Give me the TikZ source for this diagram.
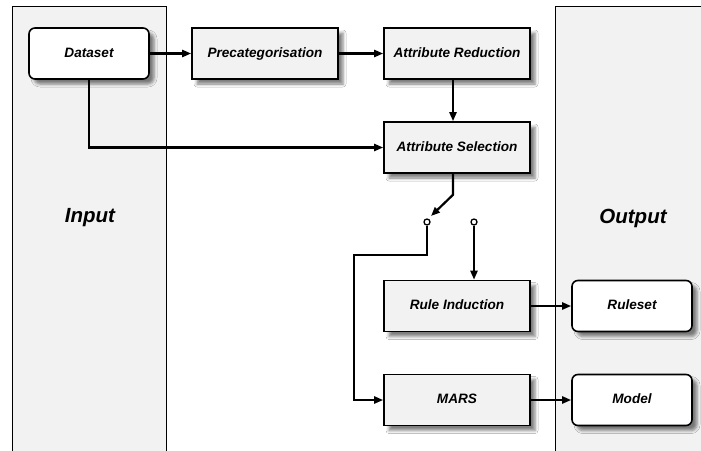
\documentclass[tikz,border=0pt]{standalone}
\usepackage{fontspec}
\setmainfont{Liberation Sans}
\usetikzlibrary{arrows.meta,shadows.blur,calc}
\definecolor{panelgray}{HTML}{F2F2F2}
\definecolor{boxgray}{HTML}{F2F2F2}
\tikzset{
  procbox/.style={draw=black, line width=1.6pt, fill=boxgray, minimum width=146pt, minimum height=51pt, inner sep=0pt,
    text height=10pt, text depth=3pt,
    font=\fontsize{13.6}{16}\selectfont\bfseries\itshape,
    blur shadow={shadow xshift=5pt, shadow yshift=-5pt, shadow blur radius=3pt, shadow opacity=50}},
  iobox/.style={procbox, fill=white, rounded corners=6pt, minimum width=120pt},
  panel/.style={draw=black, line width=1pt, fill=panelgray},
  panellabel/.style={font=\fontsize{20.5}{24}\selectfont\bfseries\itshape},
  conn/.style={line width=2.2pt, -{Triangle[length=9pt,width=7pt]}},
  contact/.style={circle, draw=black, line width=1.3pt, fill=white, minimum size=6pt, inner sep=0pt}
}
\begin{document}
\begin{tikzpicture}[x=1pt,y=-1pt]
\useasboundingbox (0,0) rectangle (701,450);
\fill[white] (0,0) rectangle (701,450);
% panels
\draw[panel] (12,460) -- (12,6) -- (166,6) -- (166,460);
\draw[panel] (555,460) -- (555,6) -- (720,6) -- (720,460);
\node[panellabel] (inlab) at (90,218) {Input};
\node[panellabel] (outlab) at (633,218) {Output};
% boxes
\node[iobox] (ds) at (89,53.5) {Dataset};
\node[procbox] (pc) at (265,53.5) {Precategorisation};
\node[procbox] (ar) at (457,53.5) {Attribute Reduction};
\node[procbox] (as) at (457,147.5) {Attribute Selection};
\node[procbox] (ri) at (457,306) {Rule Induction};
\node[procbox] (mars) at (457,400) {MARS};
\node[iobox] (rs) at (632,306) {Ruleset};
\node[iobox] (md) at (632,400) {Model};
% connectors
\draw[conn] (ds.east) -- (pc.west);
\draw[conn] (pc.east) -- (ar.west);
\draw[conn] ($(ar.south)+(-4,0)$) -- ($(as.north)+(-4,0)$);
\draw[conn] (ds.south) |- (as.west);
% switch
\coordinate (swa) at ($(as.south)+(-4,0)$);
\coordinate (swb) at ($(as.south)+(-4,21)$);
\coordinate (swtip) at (431,216);
\node[contact] (c1) at (427,222) {};
\node[contact] (c2) at (474,222) {};
\draw[conn] (swa) -- (swb) -- (swtip);
\coordinate (bend) at (354,255);
\draw[conn] (c1.south) |- (bend) |- (mars.west);
\draw[conn] (c2.south) -- (c2.south |- ri.north);
\draw[conn] (ri.east) -- (rs.west);
\draw[conn] (mars.east) -- (md.west);
\end{tikzpicture}
\end{document}
